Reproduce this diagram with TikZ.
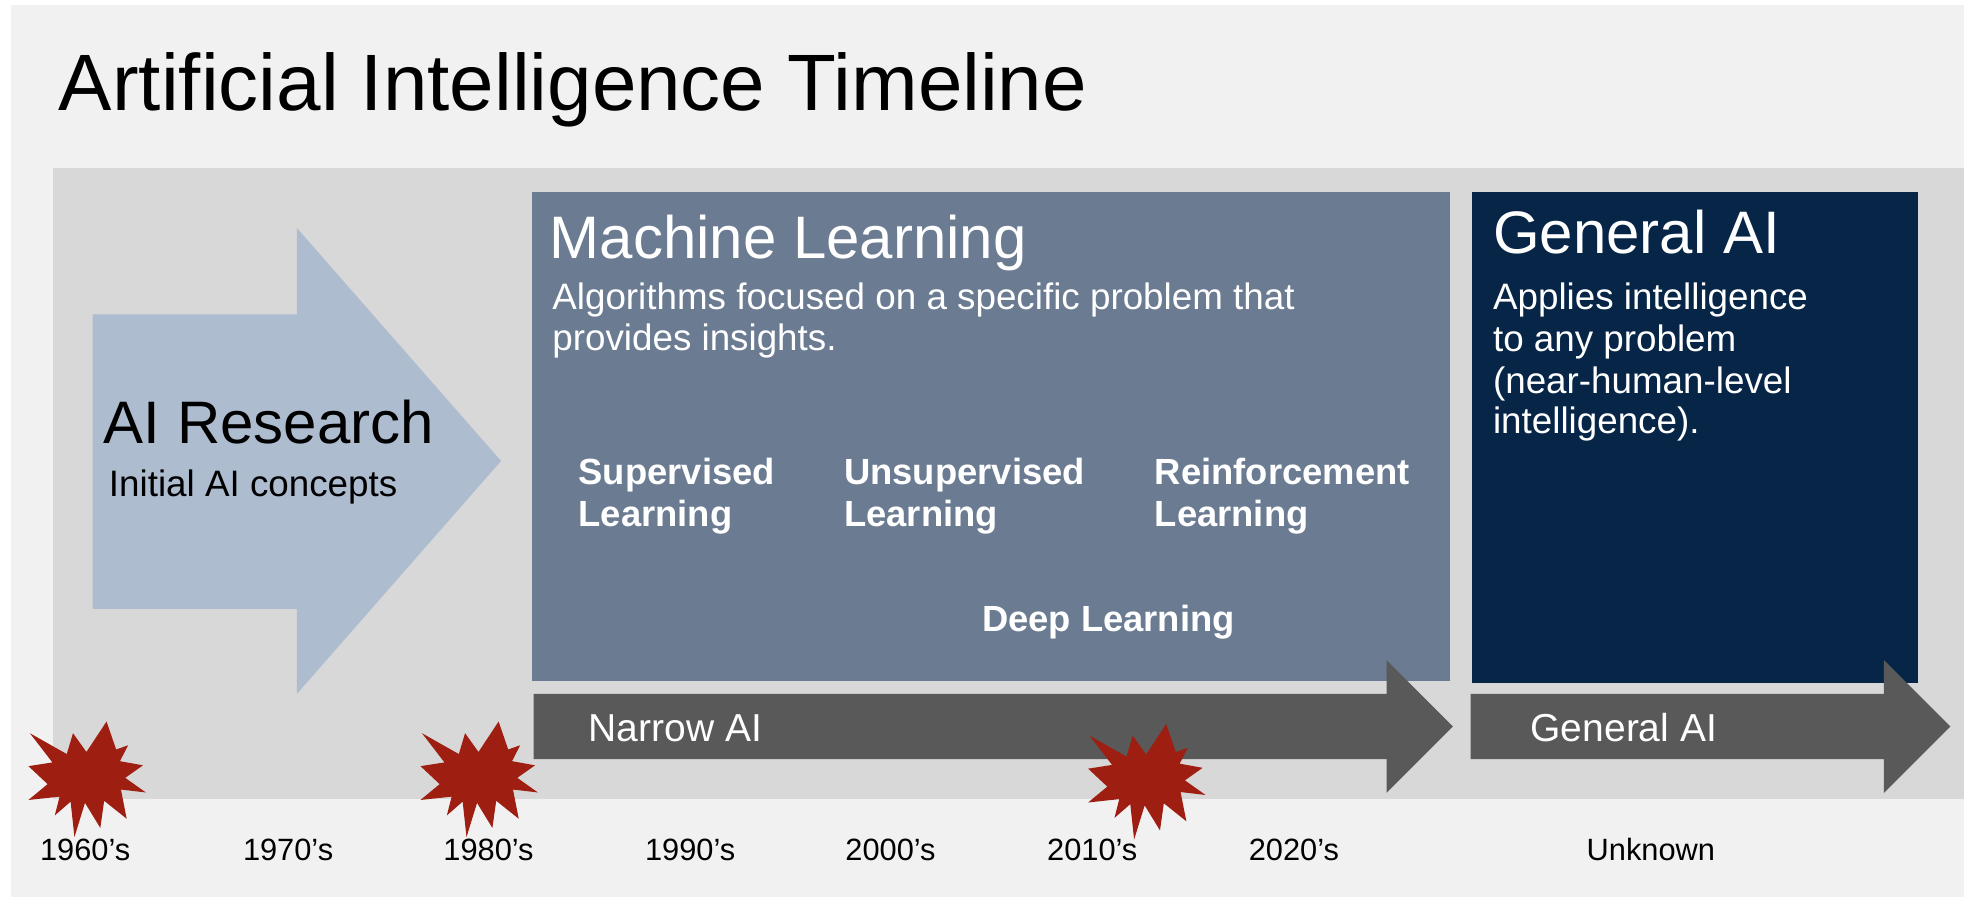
\documentclass[tikz,border=0pt]{standalone}
\usepackage{fontspec}
\setmainfont{Liberation Sans}
\newcommand{\fsz}[1]{\fontsize{#1pt}{#1pt}\selectfont}
\definecolor{pagebg}{HTML}{F1F1F1}
\definecolor{panel}{HTML}{D8D8D8}
\definecolor{mlblue}{HTML}{6A7B92}
\definecolor{genblue}{HTML}{062547}
\definecolor{lightarrow}{HTML}{ADBCCF}
\definecolor{darkarrow}{HTML}{595959}
\definecolor{burst}{HTML}{9E1F11}
\tikzset{
  x=0.6265pt,y=-0.6265pt,
  lbl/.style={anchor=base west,inner sep=0pt,outer sep=0pt},
  blacktxt/.style={lbl,text=black},
  whitetxt/.style={lbl,text=white},
  year/.style={anchor=base,inner sep=0pt,outer sep=0pt,text=black,font=\fsz{15.4}},
  mlhead/.style={whitetxt,font=\fsz{30}},
  bodytxt/.style={whitetxt,font=\fsz{18.4}},
  subfield/.style={whitetxt,font=\fsz{18.2}\bfseries},
  arrowtxt/.style={whitetxt,font=\fsz{19.5}},
}
\newcommand{\burstshape}[2]{%
  \begin{scope}[shift={(#1,#2)},x=0.2397pt,y=-0.2088pt]
  \fill[burst] (42,-135)--(62,-68)--(87,-78)--(70,-40)--(118,-30)--(81,0)--(124,35)--(72,28)--(84,98)--(37,55)--(29,120)--(-3,60)--(-25,142)--(-33,57)--(-66,90)--(-56,45)--(-121,53)--(-81,15)--(-121,-28)--(-71,-37)--(-118,-107)--(-41,-57)--(-28,-107)--(0,-62)--cycle;
  \end{scope}}
\begin{document}
\begin{tikzpicture}
\useasboundingbox (0,0) rectangle (1568,717.7);
\fill[white] (0,0) rectangle (1568,717.7);
\fill[pagebg] (9,4) rectangle (1568,716);
\fill[panel] (42,134) rectangle (1568,638);
% AI research arrow
\fill[lightarrow] (74,251)--(237,251)--(237,182)--(400,368)--(237,554)--(237,486)--(74,486)--cycle;
% boxes
\fill[mlblue] (424.5,153) rectangle (1158,544);
\fill[genblue] (1175,153) rectangle (1531,545);
% timeline arrows
\fill[darkarrow] (426,554)--(1107,554)--(1107,527)--(1160,580)--(1107,633)--(1107,606)--(426,606)--cycle;
\fill[darkarrow] (1174,554)--(1504,554)--(1504,527)--(1557,580)--(1504,633)--(1504,606)--(1174,606)--cycle;
% bursts
\burstshape{69}{621}
\burstshape{382}{621}
\burstshape{915}{623}
% text
\node[blacktxt,font=\fsz{40}] (title) at (47,88) {Artificial Intelligence Timeline};
\node[blacktxt,font=\fsz{30}] (air) at (83,354) {AI Research};
\node[blacktxt,font=\fsz{18.4}] (airsub) at (87,396) {Initial AI concepts};
\node[mlhead] (ml) at (439,206) {Machine Learning};
\node[bodytxt] (ml1) at (441,247) {Algorithms focused on a specific problem that};
\node[bodytxt] (ml2) at (441,280) {provides insights.};
\node[subfield] (s1) at (462,387) {Supervised};
\node[subfield] (s2) at (462,420) {Learning};
\node[subfield] (u1) at (674,387) {Unsupervised};
\node[subfield] (u2) at (674,420) {Learning};
\node[subfield] (r1) at (922,387) {Reinforcement};
\node[subfield] (r2) at (922,420) {Learning};
\node[subfield] (dl) at (784,504) {Deep Learning};
\node[mlhead] (gen) at (1192,202) {General AI};
\node[bodytxt] (g1) at (1192,247) {Applies intelligence};
\node[bodytxt] (g2) at (1192,281) {to any problem};
\node[bodytxt] (g3) at (1192,314) {(near-human-level};
\node[bodytxt] (g4) at (1192,346) {intelligence).};
\node[arrowtxt] (na) at (470,592) {Narrow AI};
\node[arrowtxt] (ga) at (1222,592) {General AI};
\node[year] (y60) at (68,687) {1960's};
\node[year] (y70) at (230,687) {1970's};
\node[year] (y80) at (390,687) {1980's};
\node[year] (y90) at (551,687) {1990's};
\node[year] (y00) at (711,687) {2000's};
\node[year] (y10) at (872,687) {2010's};
\node[year] (y20) at (1033,687) {2020's};
\node[year] (unk) at (1318,687) {Unknown};
\end{tikzpicture}
\end{document}
